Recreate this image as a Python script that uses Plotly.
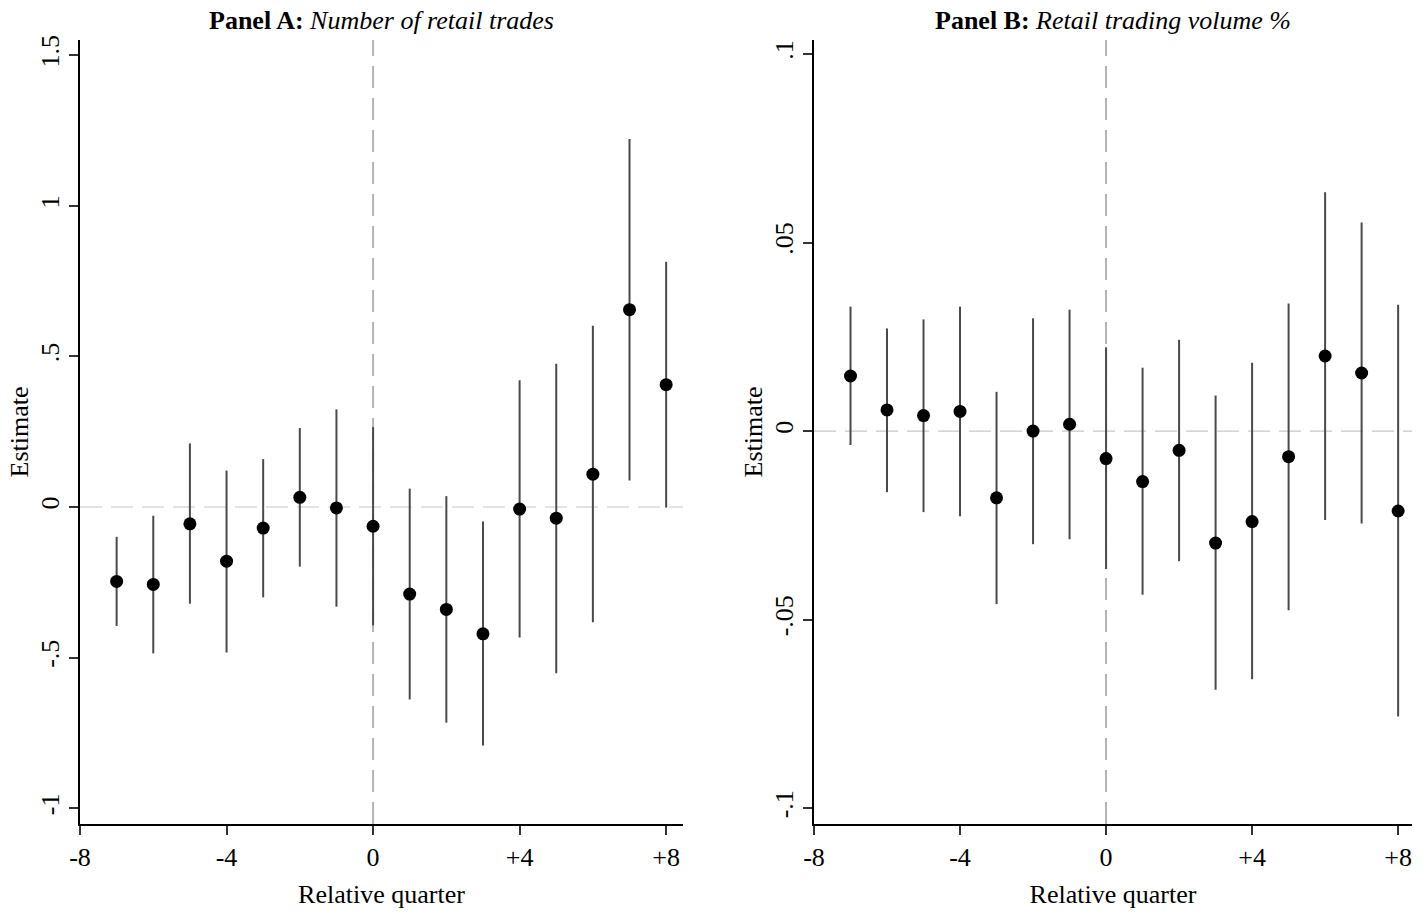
import plotly.graph_objects as go

quarters = [-7, -6, -5, -4, -3, -2, -1, 0, 1, 2, 3, 4, 5, 6, 7, 8]

a_est = [-0.247, -0.257, -0.056, -0.180, -0.070, 0.032, -0.003, -0.064,
         -0.289, -0.340, -0.421, -0.007, -0.037, 0.109, 0.655, 0.406]
a_lo = [-0.395, -0.486, -0.321, -0.483, -0.300, -0.198, -0.331, -0.393,
        -0.639, -0.716, -0.792, -0.433, -0.552, -0.383, 0.088, -0.002]
a_hi = [-0.099, -0.029, 0.211, 0.121, 0.159, 0.262, 0.324, 0.265,
        0.061, 0.036, -0.048, 0.421, 0.476, 0.602, 1.222, 0.814]

b_est = [0.0146, 0.0056, 0.0041, 0.0052, -0.0177, 0.0000, 0.0018, -0.0073,
         -0.0134, -0.0051, -0.0297, -0.0240, -0.0068, 0.0199, 0.0154, -0.0212]
b_lo = [-0.0037, -0.0162, -0.0215, -0.0226, -0.0459, -0.0300, -0.0287, -0.0366,
        -0.0434, -0.0345, -0.0686, -0.0658, -0.0475, -0.0236, -0.0245, -0.0757]
b_hi = [0.0330, 0.0272, 0.0296, 0.0330, 0.0104, 0.0299, 0.0322, 0.0222,
        0.0168, 0.0242, 0.0094, 0.0181, 0.0338, 0.0633, 0.0553, 0.0335]

x_tickvals = [-8, -4, 0, 4, 8]
x_ticktext = ["-8", "-4", "0", "+4", "+8"]
a_tickvals = [-1, -0.5, 0, 0.5, 1, 1.5]
a_ticktext = ["-1", "-.5", "0", ".5", "1", "1.5"]
b_tickvals = [-0.1, -0.05, 0, 0.05, 0.1]
b_ticktext = ["-.1", "-.05", "0", ".05", ".1"]

FONT = "Liberation Serif, Times New Roman, serif"
FS = 26
W, H = 1423, 914


def trace(est, lo, hi, xa, ya):
    return go.Scatter(
        x=quarters, y=est, xaxis=xa, yaxis=ya, mode="markers",
        marker=dict(color="black", size=13),
        error_y=dict(type="data", symmetric=False,
                     array=[h - e for h, e in zip(hi, est)],
                     arrayminus=[e - l for e, l in zip(est, lo)],
                     color="#4a4a4a", thickness=2, width=0),
        showlegend=False, hoverinfo="skip")


fig = go.Figure()
fig.add_trace(trace(a_est, a_lo, a_hi, "x", "y"))
fig.add_trace(trace(b_est, b_lo, b_hi, "x2", "y2"))

ydom = [(H - 824) / H, (H - 40) / H]

common_x = dict(tickmode="array", tickvals=x_tickvals, ticktext=x_ticktext,
                showline=True, linecolor="black", linewidth=1.5, automargin=False,
                ticks="outside", ticklen=9, tickwidth=1.5, tickcolor="#333",
                showgrid=False, zeroline=False,
                tickfont=dict(family=FONT, size=FS, color="black"),
                title=dict(text="Relative quarter", font=dict(family=FONT, size=FS, color="black"),
                           standoff=14))
common_y = dict(tickmode="array", showline=True, linecolor="black", linewidth=1.5, automargin=False,
                ticks="outside", ticklen=9, tickwidth=1.5, tickcolor="#333",
                showgrid=False, zeroline=False, tickangle=-90,
                tickfont=dict(family=FONT, size=FS, color="black"),
                title=dict(text="Estimate", font=dict(family=FONT, size=FS, color="black"),
                           standoff=0))

fig.update_layout(
    width=W, height=H,
    margin=dict(l=0, r=0, t=0, b=0, autoexpand=False),
    paper_bgcolor="white", plot_bgcolor="white",
    xaxis=dict(domain=[80 / W, 683 / W], range=[-8, 8.46], anchor="y", **common_x),
    yaxis=dict(domain=ydom, range=[-1.0525, 1.5505], anchor="x",
               tickvals=a_tickvals, ticktext=a_ticktext, **common_y),
    xaxis2=dict(domain=[814 / W, 1412 / W], range=[-8, 8.38], anchor="y2", **common_x),
    yaxis2=dict(domain=ydom, range=[-0.1042, 0.1037], anchor="x2",
                tickvals=b_tickvals, ticktext=b_ticktext, **common_y),
)

shapes = []
for xr, yr in (("x", "y"), ("x2", "y2")):
    shapes.append(dict(type="line", xref=xr + " domain", yref=yr, x0=0, x1=1, y0=0, y1=0,
                       line=dict(color="#c8c8c8", width=1.2, dash="22px,9px"), layer="below"))
    shapes.append(dict(type="line", xref=xr, yref=yr + " domain", x0=0, x1=0, y0=0, y1=1,
                       line=dict(color="#b4b4b4", width=2, dash="22px,10px"), layer="below"))
fig.update_layout(shapes=shapes)

fig.add_annotation(x=(80 + 683) / 2 / W, y=(H - 21) / H, xref="paper", yref="paper",
                   text="<b>Panel A:</b> <i>Number of retail trades</i>", showarrow=False,
                   font=dict(family=FONT, size=FS, color="black"), xanchor="center", yanchor="middle")
fig.add_annotation(x=(814 + 1412) / 2 / W, y=(H - 21) / H, xref="paper", yref="paper",
                   text="<b>Panel B:</b> <i>Retail trading volume %</i>", showarrow=False,
                   font=dict(family=FONT, size=FS, color="black"), xanchor="center", yanchor="middle")

fig.write_html("out.html")
